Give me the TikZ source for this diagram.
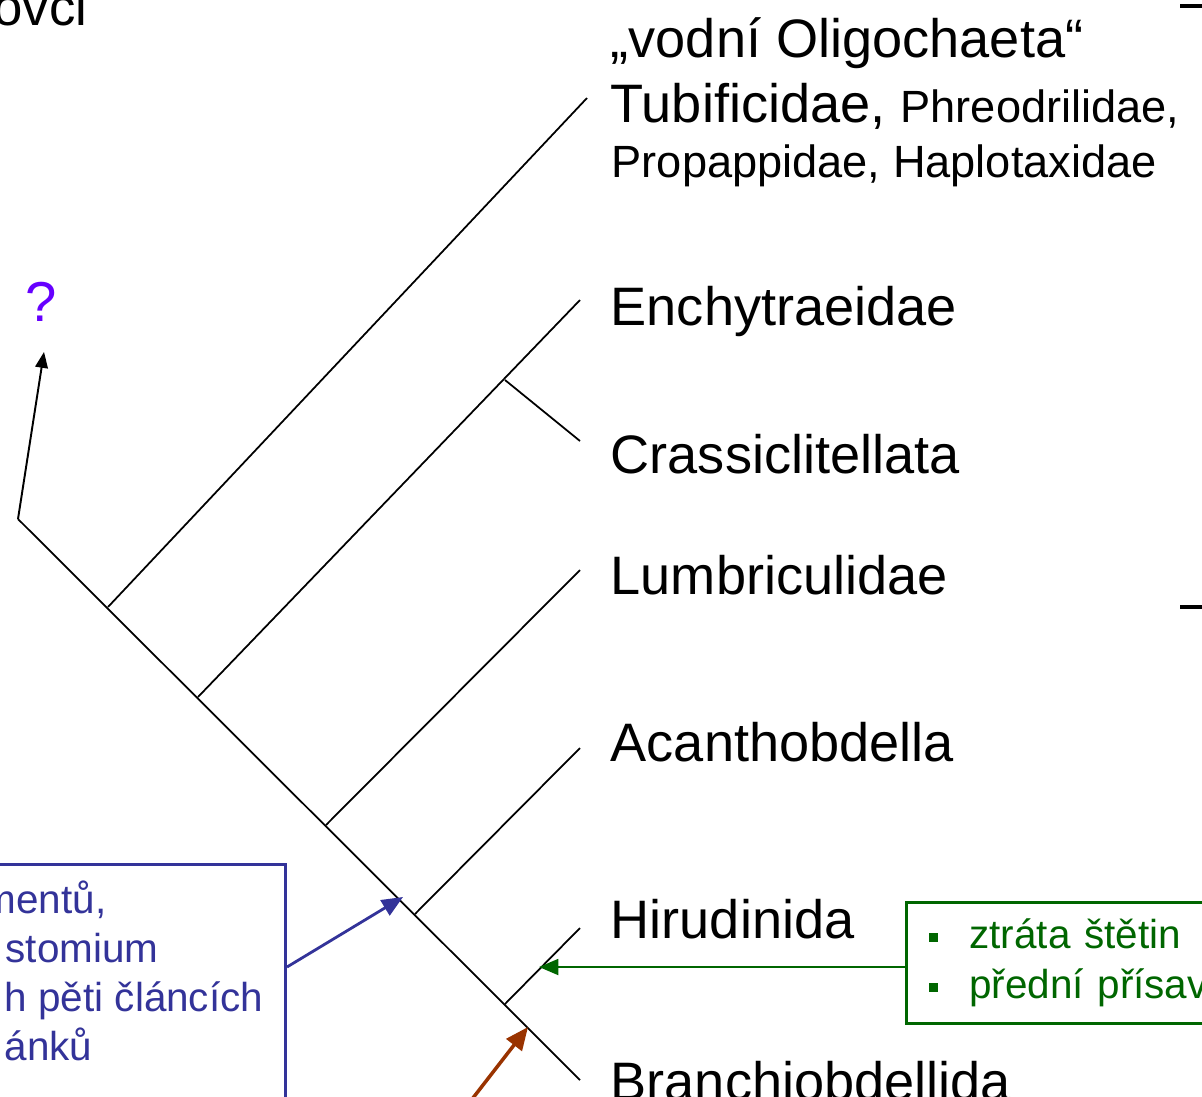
\documentclass[tikz,border=0pt]{standalone}
\usepackage{fontspec}
\setmainfont{Liberation Sans}
\usetikzlibrary{arrows.meta,positioning}
\definecolor{annblue}{HTML}{333399}
\definecolor{lossgreen}{HTML}{006600}
\definecolor{synbrown}{HTML}{993300}
\definecolor{qviolet}{HTML}{6600FF}
\newcommand{\sqbul}{\rule[0.07cm]{0.09cm}{0.09cm}\hspace{0.31cm}}

\begin{document}
\begin{tikzpicture}[x=0.01cm,y=-0.01cm,>={Triangle[length=4.5pt,width=3.6pt]},
  branch/.style={line width=0.5pt},
  taxon/.style={anchor=base west,inner sep=0pt,font=\fontsize{15.4}{18}\selectfont},
  subtaxon/.style={taxon,font=\fontsize{12.85}{15}\selectfont},
  annbox/.style={draw=annblue,line width=0.8pt},
  anntext/.style={anchor=base west,inner sep=0pt,text=annblue,font=\fontsize{11.5}{14}\selectfont},
  lossbox/.style={draw=lossgreen,line width=0.8pt,text=lossgreen,align=left,
    font=\fontsize{11.5}{14.2}\selectfont}]
  \useasboundingbox (0,0) rectangle (1202,1096);
  \clip (0,0) rectangle (1202,1096);

  % tree
  \coordinate (root) at (18,519);
  \coordinate (n1) at (108,607);
  \coordinate (n2) at (198,697);
  \coordinate (n3) at (326,825);
  \coordinate (n4) at (415,914);
  \coordinate (n5) at (505,1004);
  \coordinate (cr) at (505,380);
  \coordinate (leafO) at (587,98);
  \coordinate (leafE) at (580,300);
  \coordinate (leafC) at (580,441);
  \coordinate (leafL) at (580,570);
  \coordinate (leafA) at (580,748);
  \coordinate (leafH) at (580,928);
  \coordinate (leafB) at (580,1080);
  \draw[branch] (root) -- (leafB);
  \draw[branch] (n1) -- (leafO);
  \draw[branch] (n2) -- (leafE);
  \draw[branch] (cr) -- (leafC);
  \draw[branch] (n3) -- (leafL);
  \draw[branch] (n4) -- (leafA);
  \draw[branch] (n5) -- (leafH);

  \node[taxon] (oligo) at (610,57) {„vodní Oligochaeta“};
  \node[taxon] (tubif) at (610,122) {Tubificidae, {\fontsize{12.85}{15}\selectfont Phreodrilidae,}};
  \node[subtaxon] (propa) at (611,177) {Propappidae, Haplotaxidae};
  \node[taxon] (ench) at (610,325) {Enchytraeidae};
  \node[taxon] (crass) at (610,473) {Crassiclitellata};
  \node[taxon] (lumb) at (610,594) {Lumbriculidae};
  \node[taxon] (acan) at (610,761) {Acanthobdella};
  \node[taxon] (hiru) at (610,938) {Hirudinida};
  \node[taxon] (bran) at (610,1100) {Branchiobdellida};

  \node[taxon,font=\fontsize{15}{18}\selectfont,anchor=base east] (title) at (88,25) {ovci};
  \draw[line width=0.9pt] (1180,6) -- (1210,6);
  \draw[line width=0.9pt] (1180,607) -- (1210,607);

  % unknown sister group
  \node[taxon,font=\fontsize{16}{19}\selectfont,text=qviolet] (qm) at (25,321) {?};
  \coordinate (qtip) at (44,352);
  \draw[line width=0.55pt,->] (root) -- (qtip);

  % annotation, left
  \node[annbox,anchor=north east,minimum width=3.5cm,minimum height=3cm] (ann) at (287,863) {};
  \node[anntext] (ann1) at (-18,913) {mentů,};
  \node[anntext] (ann2) at (5,962) {stomium};
  \node[anntext] (ann3) at (4,1011) {h pěti článcích};
  \node[anntext] (ann4) at (4,1060) {ánků};
  \coordinate (annfrom) at (287,967);
  \coordinate (anntip) at (403,897);
  \draw[annblue,line width=0.8pt,-{Triangle[length=6pt,width=5pt]}] (annfrom) -- (anntip);

  % annotation, bottom
  \coordinate (synfrom) at (459,1116);
  \coordinate (syntip) at (528,1027);
  \draw[synbrown,line width=1pt,-{Triangle[length=6.5pt,width=5.5pt]}] (synfrom) -- (syntip);

  % annotation, right
  \node[lossbox,anchor=north west,minimum height=1.21cm,
    inner xsep=0.23cm,text width=3.54cm] (loss) at (905,901)
    {\sqbul ztráta štětin\\ \sqbul přední přísav};
  \coordinate (hirtip) at (539,967);
  \draw[lossgreen,line width=0.7pt,-{Triangle[length=5.5pt,width=4.5pt]}] (loss.west |- hirtip) -- (hirtip);
\end{tikzpicture}
\end{document}
